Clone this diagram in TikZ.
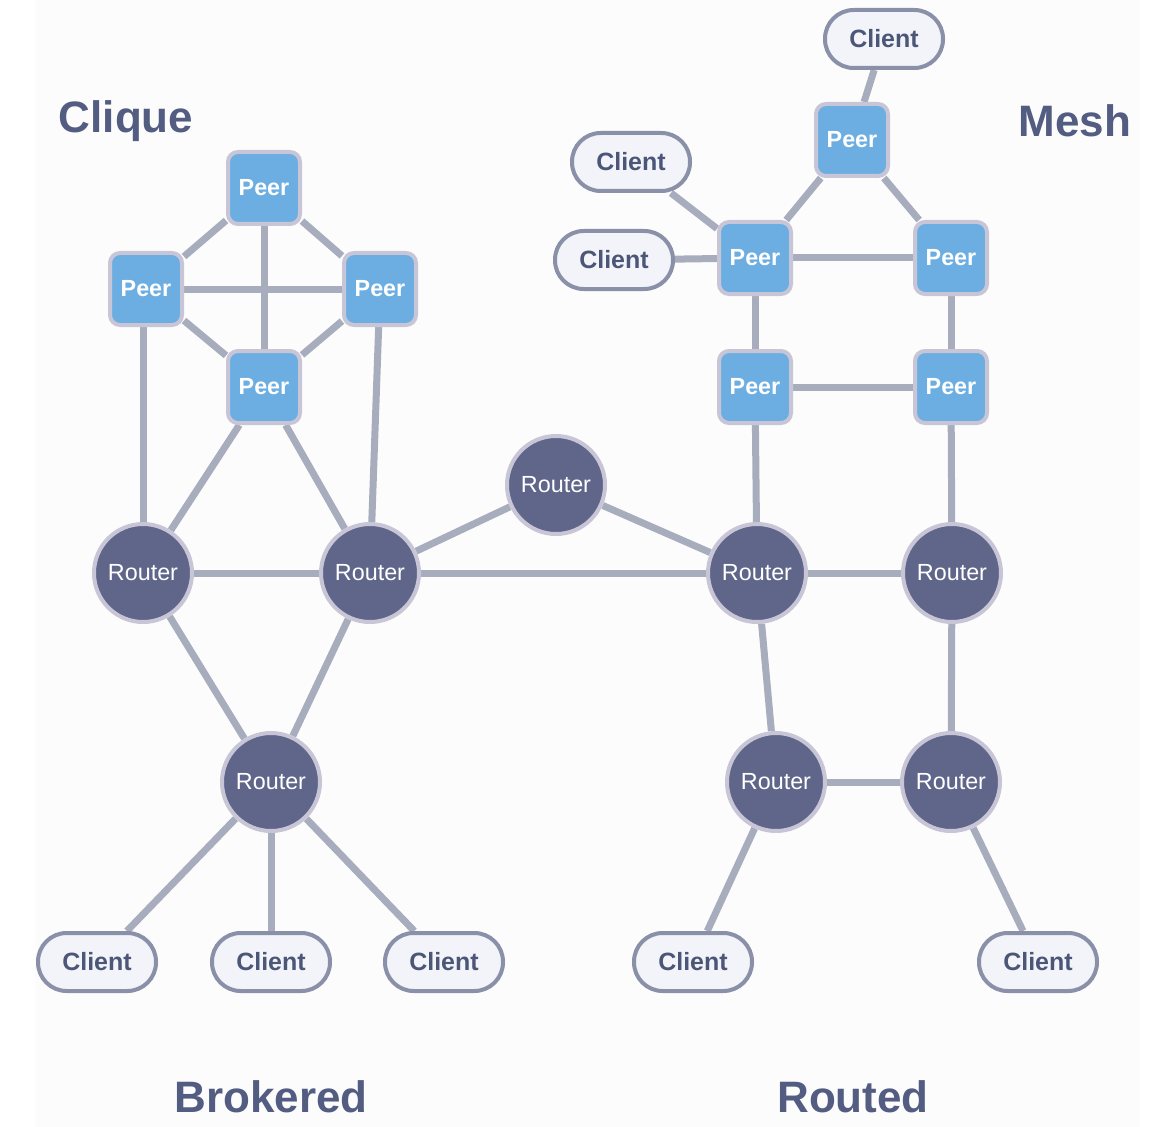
\documentclass[tikz,border=0pt]{standalone}
\usepackage{fontspec}
\setmainfont{Liberation Sans}
\definecolor{peerfill}{HTML}{6CAEE2}
\definecolor{nodeborder}{HTML}{C8C6D6}
\definecolor{routerfill}{HTML}{5F6689}
\definecolor{clientfill}{HTML}{F2F4F9}
\definecolor{clientborder}{HTML}{8A90A8}
\definecolor{clienttext}{HTML}{4C5677}
\definecolor{titlecol}{HTML}{535D81}
\definecolor{edgecol}{HTML}{A8ADBE}
\definecolor{bgcol}{HTML}{FCFCFD}
\pgfdeclarelayer{bg}
\pgfdeclarelayer{edges}
\pgfsetlayers{bg,edges,main}
\begin{document}
\begin{tikzpicture}[x=0.75pt,y=-0.75pt,
  peer/.style={draw=nodeborder, fill=peerfill, line width=3pt, rounded corners=7.5pt,
    minimum width=54pt, minimum height=54pt, inner sep=0pt, text=white,
    font=\fontsize{17.5}{20}\selectfont\bfseries},
  router/.style={circle, draw=nodeborder, fill=routerfill, line width=3pt,
    minimum size=73.5pt, inner sep=0pt, text=white,
    font=\fontsize{17.5}{20}\selectfont},
  client/.style={draw=clientborder, fill=clientfill, line width=3pt, rounded corners=21.5pt,
    minimum width=88.5pt, minimum height=43.5pt, inner sep=0pt, text=clienttext,
    font=\fontsize{18.75}{20}\selectfont\bfseries},
  title/.style={text=titlecol, font=\fontsize{33}{36}\selectfont\bfseries, inner sep=0pt},
  link/.style={draw=edgecol, line width=5.25pt}
]
\useasboundingbox (0,0) rectangle (1168,1127);
\begin{pgfonlayer}{bg}
  \fill[white] (0,0) rectangle (1168,1127);
  \fill[bgcol] (35,0) rectangle (1140,1127);
\end{pgfonlayer}

% titles
\node[title] (tClique) at (126,121) {Clique};
\node[title] (tMesh) at (1075,121) {Mesh};
\node[title] (tBrok) at (271,1097) {Brokered};
\node[title] (tRout) at (853,1097) {Routed};

% clique peers
\node[peer] (cT) at (264,188) {Peer};
\node[peer] (cL) at (146,289) {Peer};
\node[peer] (cR) at (380,289) {Peer};
\node[peer] (cB) at (264,387) {Peer};

% mesh peers
\node[peer] (mT) at (852,140) {Peer};
\node[peer] (mL) at (755,258) {Peer};
\node[peer] (mR) at (951,258) {Peer};
\node[peer] (mBL) at (755,387) {Peer};
\node[peer] (mBR) at (951,387) {Peer};

% mesh clients
\node[client] (mc1) at (884,39) {Client};
\node[client] (mc2) at (631,162) {Client};
\node[client] (mc3) at (614,260) {Client};

% routers
\node[router] (r1) at (143,573) {Router};
\node[router] (r2) at (370,573) {Router};
\node[router] (r3) at (271,782) {Router};
\node[router] (rt) at (556,485) {Router};
\node[router] (r4) at (757,573) {Router};
\node[router] (r5) at (952,573) {Router};
\node[router] (r6) at (776,782) {Router};
\node[router] (r7) at (951,782) {Router};

% bottom clients
\node[client] (bc1) at (97,962) {Client};
\node[client] (bc2) at (271,962) {Client};
\node[client] (bc3) at (444,962) {Client};
\node[client] (bc4) at (693,962) {Client};
\node[client] (bc5) at (1038,962) {Client};

\begin{pgfonlayer}{edges}
  % clique
  \draw[link] (cT) -- (cL);
  \draw[link] (cT) -- (cR);
  \draw[link] (cT) -- (cB);
  \draw[link] (cL) -- (cR);
  \draw[link] (cL) -- (cB);
  \draw[link] (cR) -- (cB);
  \draw[link] (cL.south -| r1.north) -- (r1.north);
  \draw[link] (cR) -- (r2);
  \draw[link] (cB) -- (r1);
  \draw[link] (cB) -- (r2);
  % brokered
  \draw[link] (r1) -- (r2);
  \draw[link] (r1) -- (r3);
  \draw[link] (r2) -- (r3);
  \draw[link] (r3) -- (bc1);
  \draw[link] (r3) -- (bc2);
  \draw[link] (r3) -- (bc3);
  % middle
  \draw[link] (r2) -- (rt);
  \draw[link] (r2) -- (r4);
  \draw[link] (rt) -- (r4);
  % mesh
  \draw[link] (mc1) -- (mT);
  \draw[link] (mT) -- (mL);
  \draw[link] (mT) -- (mR);
  \draw[link] (mc2) -- (mL);
  \draw[link] (mc3) -- (mL);
  \draw[link] (mL) -- (mR);
  \draw[link] (mL) -- (mBL);
  \draw[link] (mR) -- (mBR);
  \draw[link] (mBL) -- (mBR);
  \draw[link] (mBL) -- (r4);
  \draw[link] (mBR) -- (r5);
  % routed
  \draw[link] (r4) -- (r5);
  \draw[link] (r4) -- (r6);
  \draw[link] (r5) -- (r7);
  \draw[link] (r6) -- (r7);
  \draw[link] (r6) -- (bc4);
  \draw[link] (r7) -- (bc5);
\end{pgfonlayer}
\end{tikzpicture}
\end{document}
